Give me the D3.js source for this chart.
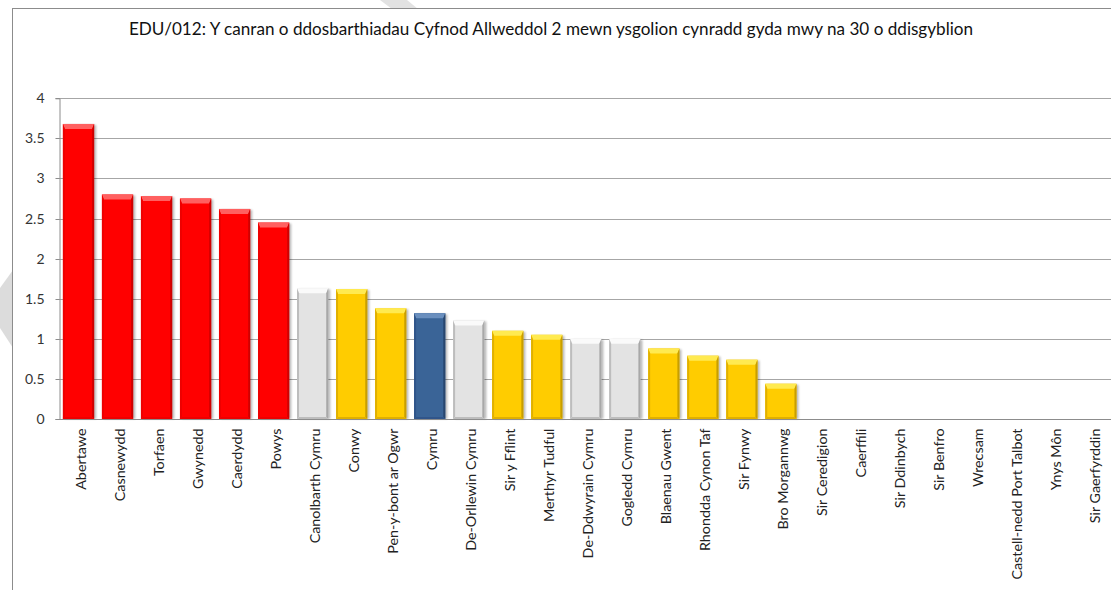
<!DOCTYPE html>
<html><head><meta charset="utf-8">
<script src="https://cdn.jsdelivr.net/npm/d3@7"></script>
<style>html,body{margin:0;padding:0;background:#fff;overflow:hidden}</style>
</head><body>
<svg id="c" width="1111" height="590"></svg>
<script>
const categories = ["Abertawe","Casnewydd","Torfaen","Gwynedd","Caerdydd","Powys","Canolbarth Cymru","Conwy","Pen-y-bont ar Ogwr","Cymru","De-Orllewin Cymru","Sir y Fflint","Merthyr Tudful","De-Ddwyrain Cymru","Gogledd Cymru","Blaenau Gwent","Rhondda Cynon Taf","Sir Fynwy","Bro Morgannwg","Sir Ceredigion","Caerffili","Sir Ddinbych","Sir Benfro","Wrecsam","Castell-nedd Port Talbot","Ynys Môn","Sir Gaerfyrddin"];
const values = [3.68,2.80,2.78,2.75,2.62,2.45,1.63,1.62,1.38,1.32,1.23,1.10,1.05,1.00,1.00,0.88,0.79,0.74,0.44,0,0,0,0,0,0,0,0];
const groups = ["top","top","top","top","top","top","region","la","la","wales","region","la","la","region","region","la","la","la","la","la","la","la","la","la","la","la","la"];
const yTicks = [0,0.5,1,1.5,2,2.5,3,3.5,4];
const titleText = "EDU/012: Y canran o ddosbarthiadau Cyfnod Allweddol 2 mewn ysgolion cynradd gyda mwy na 30 o ddisgyblion";

const palette = {
  top:    {base:"#FF0000", light:"#FF6060", dark:"#D00000", side:"#EE0000"},
  region: {base:"#E3E3E3", light:"#FAFAFA", dark:"#A8A8A8", side:"#BDBDBD"},
  la:     {base:"#FFCC00", light:"#FFEA50", dark:"#C89E00", side:"#E0B000"},
  wales:  {base:"#3A6497", light:"#6A8FBE", dark:"#28466E", side:"#30558A"}
};

const FONT = "Lato, 'Open Sans', sans-serif";
const svg = d3.select("#c");
const defs = svg.append("defs");
const f = defs.append("filter").attr("id","sh").attr("x","-30%").attr("y","-10%").attr("width","160%").attr("height","130%");
f.append("feGaussianBlur").attr("stdDeviation",1.3);

// background decorations
svg.append("polygon").attr("points","0,288 13,270 13,348 0,328").attr("fill","#dcdcdc");
svg.append("polygon").attr("points","380,0 407,0 418,9 392,9").attr("fill","#e2e2e2");

// chart frame
svg.append("rect").attr("x",12.5).attr("y",8.5).attr("width",1200).attr("height",700)
  .attr("fill","#fff").attr("stroke","#8c8c8c").attr("stroke-width",1);

const x = d3.scaleBand().domain(categories).range([59,1112.5]).paddingInner(0.2).paddingOuter(0.1);
const y = d3.scaleLinear().domain([0,4]).range([419,98.3]);

// gridlines
svg.append("g").selectAll("line").data(yTicks.filter(d=>d>0)).join("line")
  .attr("x1",59).attr("x2",1111).attr("y1",d=>Math.round(y(d))+0.5).attr("y2",d=>Math.round(y(d))+0.5)
  .attr("stroke","#a6a6a6").attr("stroke-width",1);

// y axis
const yAxis = svg.append("g").attr("transform","translate(59.5,0)")
  .call(d3.axisLeft(y).tickValues(yTicks).tickSize(4).tickPadding(11).tickFormat(d3.format("~g")));
yAxis.select(".domain").attr("stroke","#8c8c8c");
yAxis.selectAll(".tick line").attr("stroke","#8c8c8c");
yAxis.selectAll(".tick text").attr("font-family",FONT).attr("font-size",14).attr("fill","#333");
yAxis.selectAll(".tick").attr("transform",d=>`translate(0,${Math.round(y(d))+0.5})`);

// bars
const bw = x.bandwidth();
const bars = svg.append("g").selectAll("g").data(categories.map((c,i)=>({c,v:values[i],g:groups[i]})).filter(d=>d.v>0)).join("g");
bars.each(function(d){
  const g = d3.select(this);
  const p = palette[d.g];
  const x0 = x(d.c), y0 = y(d.v), w = bw, h = y(0)-y(d.v);
  g.append("rect").attr("x",x0+2).attr("y",y0+1).attr("width",w).attr("height",h-1)
    .attr("fill","#000").attr("opacity",0.28).attr("filter","url(#sh)");
  g.append("rect").attr("x",x0).attr("y",y0).attr("width",w).attr("height",h).attr("fill",p.base);
  const bt=5, bs=2, bb=2;
  g.append("polygon").attr("points",`${x0},${y0} ${x0+w},${y0} ${x0+w-bs},${y0+bt} ${x0+bs},${y0+bt}`).attr("fill",p.light);
  g.append("polygon").attr("points",`${x0},${y0} ${x0+bs},${y0+bt} ${x0+bs},${y0+h-bb} ${x0},${y0+h}`).attr("fill",p.side);
  g.append("polygon").attr("points",`${x0+w},${y0} ${x0+w},${y0+h} ${x0+w-bs},${y0+h-bb} ${x0+w-bs},${y0+bt}`).attr("fill",p.dark);
  g.append("polygon").attr("points",`${x0},${y0+h} ${x0+w},${y0+h} ${x0+w-bs},${y0+h-bb} ${x0+bs},${y0+h-bb}`).attr("fill",p.side);
});

// x axis line
svg.append("line").attr("x1",59).attr("x2",1111).attr("y1",419.5).attr("y2",419.5).attr("stroke","#8c8c8c");

// x labels
const xAxis = svg.append("g").attr("transform","translate(0,419.5)")
  .call(d3.axisBottom(x).tickSize(0).tickPadding(0));
xAxis.select(".domain").remove();
xAxis.selectAll(".tick text")
  .attr("font-family",FONT).attr("font-size",14.3).attr("fill","#222")
  .attr("transform","rotate(-90)").attr("text-anchor","end")
  .attr("x",-9).attr("y",0).attr("dy","0.4em").attr("dx",0);
xAxis.selectAll(".tick").attr("transform",d=>`translate(${x(d)+bw/2+1.5},0)`);

// title
const t = svg.append("text").attr("x",551).attr("y",35).attr("text-anchor","middle")
  .attr("font-family",FONT).attr("font-size",16).attr("fill","#111").text(titleText);
const L = t.node().getComputedTextLength();
t.attr("font-size",16*845/L);
</script>
</body></html>
